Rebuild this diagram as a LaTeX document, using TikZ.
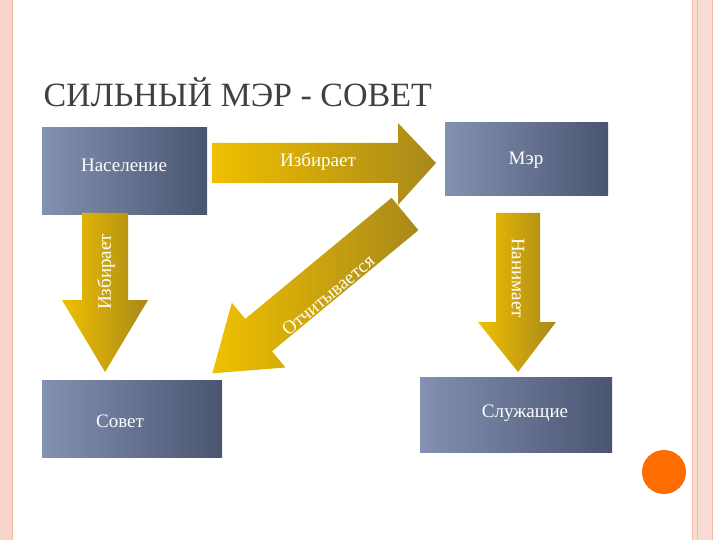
\documentclass[tikz,border=0pt]{standalone}
\usepackage{fontspec}
\setmainfont{Liberation Serif}
\begin{document}
\begin{tikzpicture}[x=1pt,y=-1pt,
 box/.style={draw=none,left color=boxL,right color=boxR},
 arr/.style={left color=goldL,right color=goldR,draw=none},
 lbl/.style={text=white,font=\fontsize{19}{21}\selectfont}]
\definecolor{boxL}{HTML}{8391B2}\definecolor{boxR}{HTML}{4A5570}
\definecolor{goldL}{HTML}{F0C000}\definecolor{goldR}{HTML}{A8881A}
\definecolor{pinkb}{HTML}{F4B8A8}
\useasboundingbox (0,0) rectangle (720,540);
\fill[white] (0,0) rectangle (720,540);
% border
\fill[pinkb!60] (0,0) rectangle (12,540);
\draw[pinkb,line width=1pt] (12,0) -- (12,540);
\fill[pinkb!50] (692,0) rectangle (712,540);
\draw[pinkb,line width=1pt] (692,0) -- (692,540) (697,0)--(697,540) (712,0)--(712,540);
\fill[orange!85!red] (664,472) circle (22);
% title
\node[anchor=west,text=black!75,font=\fontsize{34}{38}\selectfont] (title) at (40,92) {СИЛЬНЫЙ МЭР - СОВЕТ};
% boxes
\path[box] (42,128) rectangle (207,215);
\node[lbl] (nas) at (124,165) {Население};
\path[box] (445,123) rectangle (608,196);
\node[lbl] (mer) at (526,160) {Мэр};
\path[box] (42,380) rectangle (222,457);
\node[lbl] (sov) at (120,421) {Совет};
\path[box] (420,377) rectangle (612,452);
\node[lbl] (slu) at (525,413) {Служащие};
% horizontal arrow
\path[arr] (212,143) -- (398,143) -- (398,123) -- (436,163) -- (398,205) -- (398,183) -- (212,183) -- cycle;
\node[lbl] (a1) at (318,162) {Избирает};
% left down arrow
\path[arr] (82,213) -- (128,213) -- (128,300) -- (148,300) -- (105,372) -- (62,300) -- (82,300) -- cycle;
\node[lbl,rotate=90] (a2) at (106,272) {Избирает};
% right down arrow
\path[arr] (496,213) -- (540,213) -- (540,322) -- (556,322) -- (518,372) -- (478,322) -- (496,322) -- cycle;
\node[lbl,rotate=-90] (a3) at (518,278) {Нанимает};
% diagonal arrow
\begin{scope}[shift={(405,214)},rotate=-140.4]
\path[arr] (0,-21) -- (190,-21) -- (190,-42) -- (250,0) -- (190,42) -- (190,21) -- (0,21) -- cycle;
\end{scope}
\node[lbl,rotate=40] (a4) at (328,295) {Отчитывается};
\end{tikzpicture}
\end{document}
